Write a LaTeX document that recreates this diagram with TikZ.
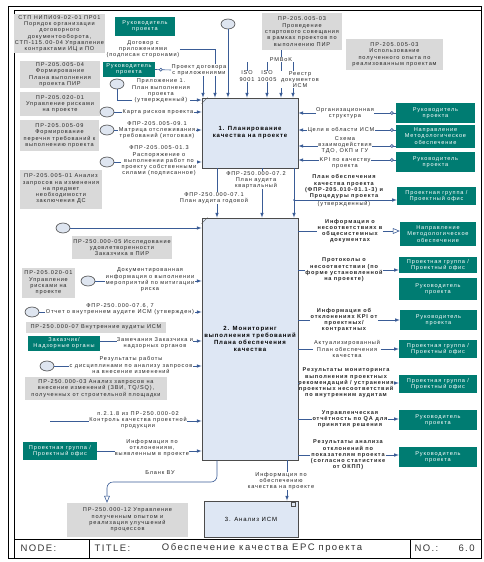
\documentclass[tikz,border=0pt]{standalone}
\usepackage{fontspec}
\setmainfont{Liberation Sans}
\newfontfamily\diagfont[LetterSpace=15]{Liberation Sans}
\usetikzlibrary{arrows,shapes}
\definecolor{tealrole}{RGB}{0,124,114}
\definecolor{graydoc}{RGB}{217,217,217}
\definecolor{procblue}{RGB}{222,231,244}
\definecolor{arcblue}{RGB}{58,92,150}
\definecolor{tunnelblue}{RGB}{222,229,240}
\newcommand{\arctext}{\diagfont\fontsize{5.6}{6.3}\selectfont}
\newcommand{\boxtext}{\diagfont\fontsize{6}{7}\selectfont}
\tikzstyle{processbox}=[draw=black!70,fill=procblue,line width=0.9pt,align=center,inner sep=1pt,font=\boxtext\bfseries]
\tikzstyle{rolebox}=[fill=tealrole,text=white,align=center,inner sep=1pt,font=\arctext]
\tikzstyle{docbox}=[fill=graydoc,text=black!85,align=center,inner sep=1pt,font=\arctext]
\tikzstyle{tunnel}=[ellipse,draw=black!75,fill=tunnelblue,line width=0.6pt,minimum width=14pt,minimum height=10pt,inner sep=0pt]
\tikzstyle{arclabel}=[align=center,inner sep=0.4pt,text=black!85,font=\arctext]
\tikzstyle{arclabelwhite}=[arclabel,fill=white]
\tikzstyle{arclabelbold}=[arclabel,font=\arctext\bfseries]
\tikzstyle{orientedarc}=[->,>=latex,draw=arcblue,line width=0.6pt]
\tikzstyle{openarc}=[->,>=open triangle 45,draw=arcblue,line width=0.6pt]
\tikzstyle{assocdot}=[circle,draw=arcblue,fill=white,inner sep=0pt,minimum size=3pt]
\tikzstyle{titletext}=[anchor=west,text=black!80,font=\diagfont\fontsize{9.5}{11}\selectfont]
\begin{document}
\begin{tikzpicture}[x=1pt,y=-1pt]
\useasboundingbox (0,0) rectangle (483,562);

\draw[line width=1pt] (8,6) rectangle (481,558);
\draw[line width=0.6pt] (14,10) -- (481,10);
\draw[line width=0.6pt] (14,10) -- (14,558);
\draw[line width=0.8pt] (14,539) -- (481,539);
\draw[line width=0.6pt] (89,539) -- (89,558);
\draw[line width=0.6pt] (410,539) -- (410,558);
\node[titletext] (NODELBL) at (17,548) {NODE:};
\node[titletext] (TITLELBL) at (91,548) {TITLE:};
\node[titletext,anchor=center] (TITLETXT) at (262,548) {Обеспечение качества EPC проекта};
\node[titletext] (NOLBL) at (411,548) {NO.:};
\node[titletext] (NOVAL) at (455,548) {6.0};

\node[processbox,minimum width=96pt,minimum height=70pt] (B1) at (250,133) {1. Планирование\\качества на проекте};
\node[processbox,minimum width=96pt,minimum height=242pt] (B2) at (250,339) {2. Мониторинг\\выполнения требований\\Плана обеспечения\\качества};
\node[processbox,minimum width=94pt,minimum height=36pt,font=\boxtext] (B3) at (251,519) {3. Анализ ИСМ};
\draw[black!70,line width=0.5pt] ([yshift=-6pt]B1.north west) -- ([xshift=6pt]B1.north west);
\draw[black!70,line width=0.5pt] ([yshift=-6pt]B2.north west) -- ([xshift=6pt]B2.north west);
\draw[black!70,line width=0.4pt] ([shift={(-7pt,-2pt)}]B3.north east) rectangle ([shift={(-3pt,-6pt)}]B3.north east);

\node[docbox,minimum width=81pt,minimum height=39pt] (G1) at (59.5,33.5) {СТП НИПИ09-02-01 ПР01\\Порядок организации\\договорного\\документооборота,\\СТП-115.00-04 Управление\\контрактами ИЦ и ПО};
\node[docbox,minimum width=80pt,minimum height=27pt] (G2) at (60,74.5) {ПР-205.005-04\\Формирование\\Плана выполнения\\проекта ПИР};
\node[docbox,minimum width=80pt,minimum height=24pt] (G5) at (60,104) {ПР-205.020-01\\Управление рисками\\на проекте};
\node[docbox,minimum width=79pt,minimum height=31pt] (G6) at (59.5,135.5) {ПР-205.005-09\\Формирование\\перечня требований к\\выполнению проекта};
\node[docbox,minimum width=82pt,minimum height=39pt] (G7) at (61,189) {ПР-205.005-01 Анализ\\запросов на изменения\\на предмет\\необходимости\\заключения ДС};
\node[docbox,minimum width=90pt,minimum height=23pt] (G8) at (122,247.5) {ПР-250.000-05 Исследование\\удовлетворенности\\Заказчика в ПИР};
\node[docbox,minimum width=53pt,minimum height=30pt] (G9) at (48.5,283) {ПР-205.020-01\\Управление\\рисками на\\проекте};
\node[docbox,minimum width=140pt,minimum height=11pt] (G10) at (96,327.5) {ПР-250.000-07 Внутренние аудиты ИСМ};
\node[docbox,minimum width=142pt,minimum height=23pt] (G11) at (96,388.5) {ПР-250.000-03 Анализ запросов на\\внесение изменений (ЗВИ, TQ/SQ),\\полученных от строительной площадки};
\node[docbox,minimum width=121pt,minimum height=34pt] (G12) at (127.5,520) {ПР-250.000-12 Управление\\полученным опытом и\\реализация улучшений\\процессов};
\node[docbox,minimum width=80pt,minimum height=37pt] (G3) at (302,31.5) {ПР-205.005-03\\Проведение\\стартового совещания\\в рамках проектов по\\выполнению ПИР};
\node[docbox,minimum width=97pt,minimum height=31pt] (G4) at (394.5,54.5) {ПР-205.005-03\\Использование\\полученного опыта по\\реализованным проектам};

\node[rolebox,minimum width=60pt,minimum height=19pt] (T1) at (145,26.5) {Руководитель\\проекта};
\node[rolebox,minimum width=52pt,minimum height=15pt] (T2) at (129,69.5) {Руководитель\\проекта};
\node[rolebox,minimum width=79pt,minimum height=20pt] (T3) at (435.5,113) {Руководитель\\проекта};
\node[rolebox,minimum width=79pt,minimum height=23pt] (T4) at (435.5,136) {Направление\\Методологическое\\обеспечение};
\node[rolebox,minimum width=79pt,minimum height=20pt] (T5) at (435.5,162) {Руководитель\\проекта};
\node[rolebox,minimum width=79pt,minimum height=18pt] (T6) at (436.5,196) {Проектная группа /\\Проектный офис};
\node[rolebox,minimum width=76pt,minimum height=24pt] (T7) at (438,234) {Направление\\Методологическое\\обеспечение};
\node[rolebox,minimum width=78pt,minimum height=16pt] (T8) at (438,265) {Проектная группа /\\Проектный офис};
\node[rolebox,minimum width=78pt,minimum height=22pt] (T9) at (438,289) {Руководитель\\проекта};
\node[rolebox,minimum width=77pt,minimum height=20pt] (T10) at (438.5,320) {Руководитель\\проекта};
\node[rolebox,minimum width=78pt,minimum height=18pt] (T11) at (438,349) {Проектная группа /\\Проектный офис};
\node[rolebox,minimum width=78pt,minimum height=18pt] (T12) at (438,384) {Проектная группа /\\Проектный офис};
\node[rolebox,minimum width=78pt,minimum height=20pt] (T13) at (438,420) {Руководитель\\проекта};
\node[rolebox,minimum width=78pt,minimum height=20pt] (T14) at (438,457) {Руководитель\\проекта};
\node[rolebox,minimum width=72pt,minimum height=15pt] (T15) at (64,343) {Заказчик/\\Надзорные органы};
\node[rolebox,minimum width=74pt,minimum height=18pt] (T16) at (60,451) {Проектная группа /\\Проектный офис};

\node[tunnel] (C1) at (228,24) {};
\node[tunnel] (C2) at (117,84) {};
\node[tunnel] (C3) at (107,112) {};
\node[tunnel] (C4) at (107,130) {};
\node[tunnel] (C5) at (107,162) {};
\node[tunnel] (C6) at (63,228) {};
\node[tunnel] (C7) at (88,281) {};
\node[tunnel] (C8) at (32,312) {};
\node[tunnel] (C9) at (47,366) {};

\coordinate (XDOG) at (215,0);
\coordinate (XPROJ) at (203,0);
\coordinate (XPMB) at (281,0);
\coordinate (ISO1TOP) at (247,62);
\coordinate (ISO2TOP) at (267,62);
\coordinate (REESTRTOP) at (293,62);
\coordinate (PRILY) at (0,100);
\coordinate (YCEL) at (0,130);
\coordinate (YSXEMA) at (0,146);
\coordinate (YKPI) at (0,160);
\coordinate (X071) at (217,0);
\coordinate (X072) at (262,0);
\coordinate (XPLAN) at (294,0);
\coordinate (PLANY) at (0,200);
\coordinate (YZAM) at (0,341);
\coordinate (KKSTART) at (50,421);
\coordinate (XBLANK) at (217,0);
\coordinate (XBLANKDOWN) at (107,0);
\coordinate (YBLANK) at (0,482);
\coordinate (XINFO) at (287,0);

\node[arclabel] (LDOG) at (143,49) {Договор с\\приложениями\\(подписан сторонами)};
\draw[orientedarc] (LDOG.east) -| (B1.north -| XDOG);
\node[arclabelwhite] (LPROJ) at (199,70) {Проект договора\\с приложениями};
\draw[orientedarc] (LPROJ.south -| XPROJ) -- (B1.north -| XPROJ);
\draw[draw=arcblue,line width=0.6pt] (T2.east) -- (LPROJ.west) node[assocdot,pos=0.35]{};
\draw[orientedarc] (C1) -- (C1 |- B1.north);
\draw[orientedarc] (ISO1TOP) -- (ISO1TOP |- B1.north) node[arclabelwhite,pos=0.4]{ISO\\9001};
\draw[orientedarc] (ISO2TOP) -- (ISO2TOP |- B1.north) node[arclabelwhite,pos=0.4]{ISO\\10005};
\draw[orientedarc] (G3.south -| XPMB) -- (B1.north -| XPMB) node[arclabelwhite,pos=0.2]{PMBoK};
\draw[orientedarc] (REESTRTOP) -- (REESTRTOP |- B1.north) node[arclabelwhite,pos=0.5,xshift=7pt]{Реестр\\документов\\ИСМ};

\draw[orientedarc] (C2.south) |- (B1.west |- PRILY);
\draw[orientedarc] (C3.east) -- (C3.east -| B1.west);
\draw[orientedarc] (C4.east) -- (C4.east -| B1.west);
\draw[orientedarc] (C5.east) -- (C5.east -| B1.west);
\node[arclabelwhite] (LPRIL) at (161,91) {Приложение 1.\\План выполнения\\проекта\\(утвержденный)};
\node[arclabelwhite] (LKARTA) at (158,112) {Карта рисков проекта};
\node[arclabelwhite] (LMATR) at (157,130) {ФПР-205.005-09.1\\Матрица отслеживания\\требований (итоговая)};
\node[arclabelwhite] (LRASP) at (159,161) {ФПР-205.005-01.3\\Распоряжение о\\выполнении работ по\\проекту собственными\\силами (подписанное)};

\draw[orientedarc] (T3.west) -- (T3.west -| B1.east) node[assocdot,pos=0.04]{};
\draw[orientedarc] (T4.west |- YCEL) -- (B1.east |- YCEL) node[assocdot,pos=0.04]{};
\draw[orientedarc] (T4.west |- YSXEMA) -- (B1.east |- YSXEMA) node[assocdot,pos=0.04]{};
\draw[orientedarc] (T5.west |- YKPI) -- (B1.east |- YKPI) node[assocdot,pos=0.04]{};
\node[arclabelwhite] (LORG) at (345,113) {Организационная\\структура};
\node[arclabelwhite] (LCEL) at (341,130) {Цели в области ИСМ};
\node[arclabelwhite] (LSXEMA) at (345,145) {Схема\\взаимодействия\\ТДО, ОКП и ГУ};
\node[arclabelwhite] (LKPI) at (345,163) {KPI по качеству\\проекта};

\draw[orientedarc] (B1.south -| X071) -- (B2.north -| X071);
\draw[orientedarc] (B1.south -| X072) -- (B2.north -| X072);
\draw[orientedarc] (B1.south -| XPLAN) -- (B2.north -| XPLAN);
\draw[orientedarc] (XPLAN |- PLANY) -- (T6.west |- PLANY);
\fill[arcblue] (XPLAN |- PLANY) circle (1pt);
\node[arclabelwhite] (L071) at (214,198) {ФПР-250.000-07.1\\План аудита годовой};
\node[arclabelwhite] (L072) at (256,180) {ФПР-250.000-07.2\\План аудита\\квартальный};
\node[arclabelbold,anchor=south] (LPLAN) at (344,199.5) {План обеспечения\\качества проекта\\(ФПР-205.010-01.1-3) и\\Процедуры проекта};
\node[arclabel,anchor=north] (LPLANUT) at (344,200.5) {(утвержденный)};

\draw[orientedarc] (C6.east) -- (C6.east -| B2.west);
\draw[orientedarc] (C7.east) -- (C7.east -| B2.west);
\draw[orientedarc] (C8.east) -- (C8.east -| B2.west);
\draw[orientedarc] (T15.east |- YZAM) -- (B2.west |- YZAM);
\draw[orientedarc] (C9.east) -- (C9.east -| B2.west);
\draw[orientedarc] (KKSTART) -- (KKSTART -| B2.west);
\draw[orientedarc] (T16.east) -- (T16.east -| B2.west);
\node[arclabelwhite] (LDOKINF) at (150,280) {Документированная\\информация о выполнении\\мероприятий по митигации\\риска};
\node[arclabelwhite] (LOTCHET) at (120,309) {ФПР-250.000-07.6, 7\\Отчет о внутреннем аудите ИСМ (утвержден)};
\node[arclabelwhite] (LZAMECH) at (155,343) {Замечания Заказчика и\\надзорных органов};
\node[arclabelwhite] (LREZRAB) at (131,365) {Результаты работы\\с дисциплинами по анализу запросов\\на внесение изменений};
\node[arclabelwhite] (LKONTR) at (138,420) {п.2.1.8 из ПР-250.000-02\\Контроль качества проектной\\продукции};
\node[arclabelwhite] (LOTKL) at (152,448) {Информация по\\отклонениям,\\выявленным в проекте};

\draw[openarc,rounded corners=6pt] (B2.south -| XBLANK) -- (XBLANK |- YBLANK) -- (XBLANKDOWN |- YBLANK) -- (XBLANKDOWN |- G12.north);
\node[arclabel] (LBLANK) at (160,473) {Бланк ВУ};
\draw[orientedarc] (B2.south -| XINFO) -- (B3.north -| XINFO);
\node[arclabelwhite] (LINFO) at (281,481) {Информация по\\обеспечению\\качества на проекте};

\node[arclabelbold] (R1) at (350,231) {Информация о\\несоответствиях в\\общесистемных\\документах};
\node[arclabelbold] (R2) at (344,270) {Протоколы о\\несоответствии (по\\форме установленной\\на проекте)};
\node[arclabelbold] (R3) at (344,320) {Информация об\\отклонениях KPI от\\проектных/\\контрактных};
\node[arclabel] (R4) at (347,349) {Актуализированный\\План обеспечения\\качества};
\node[arclabelbold] (R5) at (346,383) {Результаты мониторинга\\выполнения проектных\\рекомендаций / устранения\\проектных несоответствий\\по внутренним аудитам};
\node[arclabelbold] (R6) at (350,419) {Управленческая\\отчётность по QA для\\принятия решения};
\node[arclabelbold] (R7) at (348,455) {Результаты анализа\\отклонений по\\показателям проекта\\(согласно статистике\\от ОКПП)};
\draw[openarc] (B2.east |- R1) -- (R1.west) (R1.east) -- (T7.west |- R1.east);
\draw[orientedarc] (B2.east |- R2) -- (R2.west) (R2.east) -- (T8.west |- R2.east);
\draw[orientedarc] (B2.east |- R3) -- (R3.west) (R3.east) -- (T10.west |- R3.east);
\draw[orientedarc] (B2.east |- R4) -- (R4.west) (R4.east) -- (T11.west |- R4.east);
\draw[orientedarc] (B2.east |- R5) -- (R5.west) (R5.east) -- (T12.west |- R5.east);
\draw[orientedarc] (B2.east |- R6) -- (R6.west) (R6.east) -- (T13.west |- R6.east);
\draw[orientedarc] (B2.east |- R7) -- (R7.west) (R7.east) -- (T14.west |- R7.east);

\end{tikzpicture}
\end{document}
